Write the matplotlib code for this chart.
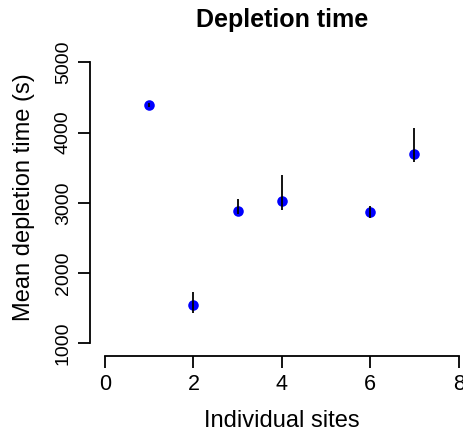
import numpy as np
import matplotlib
matplotlib.use("Agg")
import matplotlib.pyplot as plt

plt.rcParams["font.family"] = ["Liberation Sans", "DejaVu Sans"]

# ================= DATA =================

sites = [1, 2, 3, 4, 6, 7]
mean_time = [4395, 1546, 2888, 3023, 2866, 3697]
err_low = [4365, 1427, 2845, 2903, 2781, 3587]
err_high = [4425, 1726, 3051, 3390, 2960, 4063]

x_ticks = [0, 2, 4, 6, 8]
y_ticks = [1000, 2000, 3000, 4000, 5000]

# ================= DRAW =================

W, H = 463, 432
fig = plt.figure(figsize=(W / 100, H / 100), dpi=100)

# axes box in pixels: left spine at x=90, bottom spine at y=356
ax = fig.add_axes([90 / W, (H - 355.7) / H, (W - 90) / W, (355.7 - 40) / H])
ax.set_xlim(-0.339, 8.10)
ax.set_ylim(823, 5320)

ax.plot(sites, mean_time, "o", color="#0000ff", markersize=7.6,
        markeredgewidth=0, zorder=2)
ax.vlines(sites, err_low, err_high, color="black", linewidth=1.3, zorder=3)

for s in ["top", "right"]:
    ax.spines[s].set_visible(False)
ax.spines["left"].set_bounds(1000, 5000)
ax.spines["bottom"].set_bounds(0, 8)
for s in ["left", "bottom"]:
    ax.spines[s].set_linewidth(1.3)

ax.set_xticks(x_ticks)
ax.set_yticks(y_ticks)
ax.set_yticklabels([str(v) for v in y_ticks], rotation=90, va="center")
ax.tick_params(axis="both", direction="out", length=8.5, width=1.3)
ax.tick_params(axis="x", labelsize=15.5, pad=5)
ax.tick_params(axis="y", labelsize=14, pad=4.5)

fig.text(282 / W, (H - 27.5) / H, "Depletion time", ha="center",
         va="baseline", fontsize=18, fontweight="bold")
fig.text(282 / W, (H - 427) / H, "Individual sites", ha="center",
         va="baseline", fontsize=17)
fig.text(24 / W, (H - 197) / H, "Mean depletion time (s)", ha="center",
         va="center", rotation=90, fontsize=17)

fig.savefig("out.png", dpi=100)
